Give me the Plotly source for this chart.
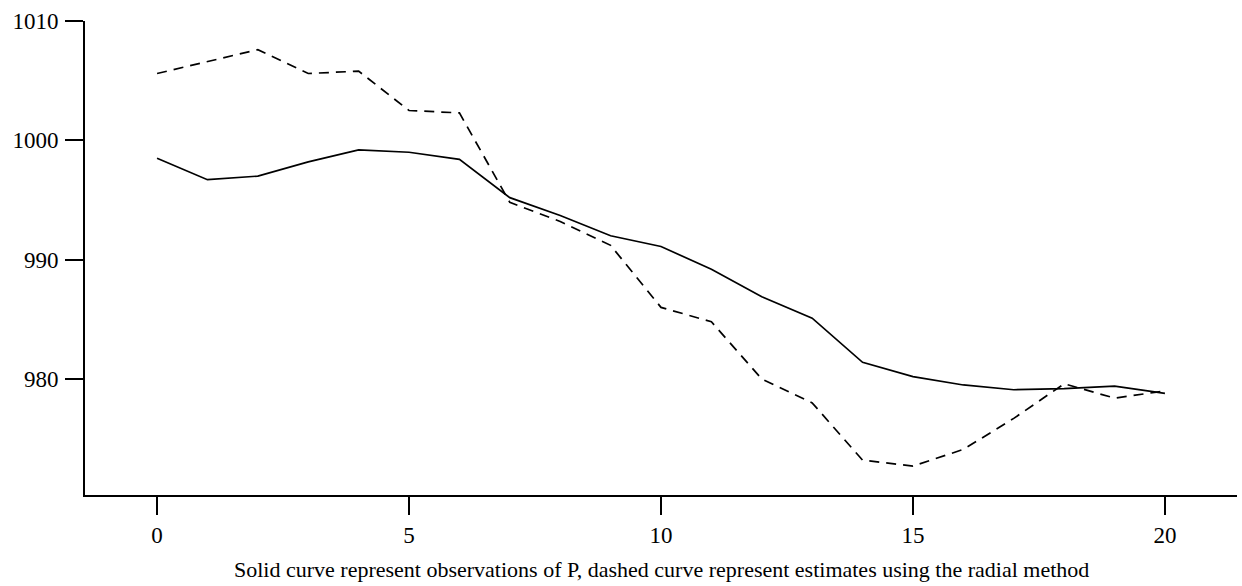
import plotly.graph_objects as go

# Time step index
steps = list(range(21))

# Observed P
observed = [998.5, 996.7, 997.0, 998.2, 999.2, 999.0, 998.4, 995.2, 993.7, 992.0,
            991.1, 989.2, 986.9, 985.1, 981.4, 980.2, 979.5, 979.1, 979.2, 979.4, 978.8]

# Radial-method estimates
estimated = [1005.6, 1006.6, 1007.6, 1005.6, 1005.8, 1002.5, 1002.3, 994.8, 993.2, 991.2,
             986.0, 984.8, 980.0, 978.0, 973.2, 972.7, 974.1, 976.7, 979.6, 978.4, 979.0]

x_ticks = [0, 5, 10, 15, 20]
y_ticks = [980, 990, 1000, 1010]

caption = ("Solid curve represent observations of P, dashed curve represent "
           "estimates using the radial method")

font_family = "Liberation Serif, Times New Roman, serif"

fig = go.Figure()
fig.add_trace(go.Scatter(x=steps, y=observed, mode="lines",
                         line=dict(color="black", width=1.7), showlegend=False))
fig.add_trace(go.Scatter(x=steps, y=estimated, mode="lines",
                         line=dict(color="black", width=1.7, dash="10px,7px"),
                         showlegend=False))

axis_common = dict(showline=True, linecolor="black", linewidth=1.8,
                   showgrid=False, zeroline=False, ticks="outside",
                   tickcolor="black", tickwidth=1.8, ticklen=18,
                   tickfont=dict(family=font_family, size=23, color="black"))

fig.update_xaxes(range=[-1.43, 21.43], tickvals=x_ticks,
                 ticktext=[str(v) for v in x_ticks], **axis_common)
fig.update_yaxes(range=[970.28, 1010], tickvals=y_ticks,
                 ticktext=[str(v) for v in y_ticks], ticklabelstandoff=2,
                 **axis_common)

fig.add_annotation(text=caption, xref="paper", yref="paper", x=0.5, y=-0.158,
                   xanchor="center", yanchor="middle", showarrow=False,
                   font=dict(family=font_family, size=22, color="black"))

fig.update_layout(width=1242, height=586, autosize=False,
                  margin=dict(l=85, r=5, t=21, b=91),
                  paper_bgcolor="white", plot_bgcolor="white",
                  font=dict(family=font_family, color="black"))

fig.write_html("out.html")
